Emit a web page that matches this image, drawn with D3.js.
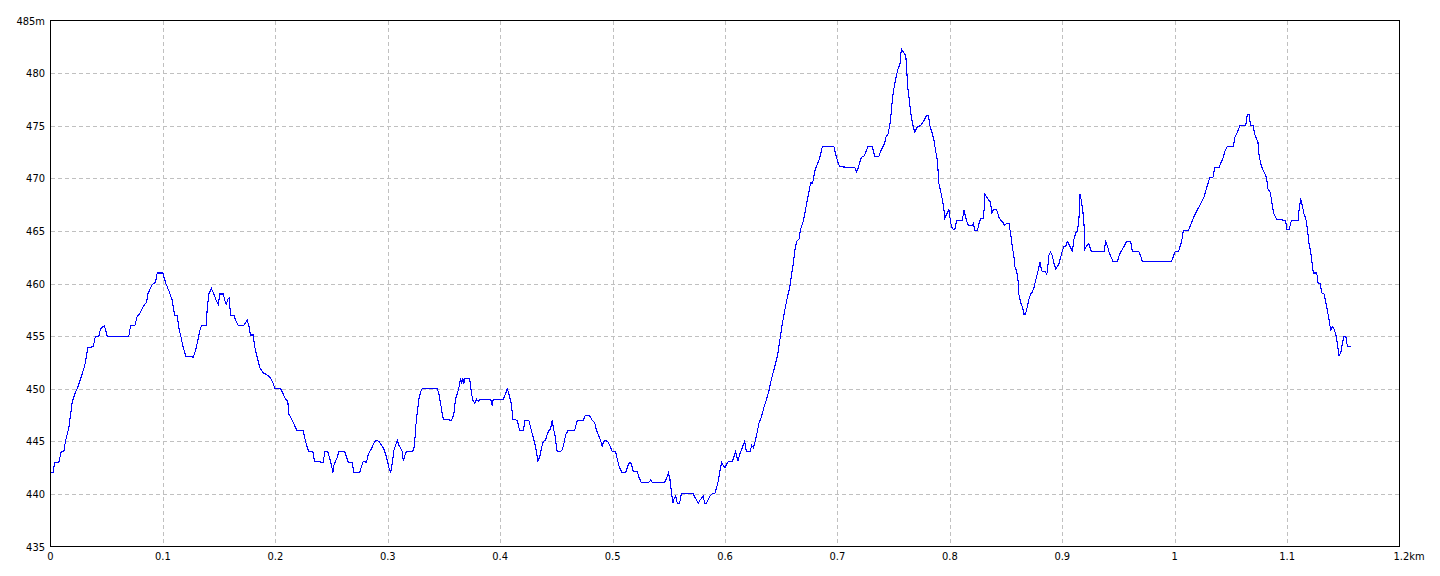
<!DOCTYPE html>
<html><head><meta charset="utf-8">
<script src="https://cdn.jsdelivr.net/npm/d3@7"></script>
<style>
html,body{margin:0;padding:0;background:#fff;}
svg text{font-family:"Liberation Sans Narrow","DejaVu Sans Condensed","Liberation Sans",Arial,sans-serif;font-size:11px;fill:#000;}
</style></head>
<body><svg id="c" width="1440" height="576"></svg>
<script>
// distance along track (metres)
const distanceM = [
0, 2.4, 3.6, 7.4, 9.5, 11.8, 13.3, 16.3, 19.3, 22.2,
23.8, 26.7, 30.5, 33.2, 38.0, 40.0, 43.0, 44.5, 48.0, 50.4,
69.7, 71.2, 75.0, 77.1, 79.2, 81.6, 83.6, 85.4, 86.6, 89.0,
90.5, 93.4, 94.9, 99.9, 102.3, 105.3, 108.3, 110.3, 112.7, 114.1,
115.7, 118.1, 120.4, 127.0, 129.0, 131.1, 132.8, 134.3, 138.5, 139.4,
140.8, 143.2, 145.3, 147.4, 149.2, 150.6, 153.6, 155.1, 156.3, 157.7,
159.0, 160.1, 163.1, 164.6, 167.0, 172.0, 173.5, 175.0, 176.4, 177.9,
180.3, 181.8, 183.9, 186.2, 189.2, 192.8, 195.7, 197.8, 199.6, 204.6,
207.0, 209.1, 211.1, 212.0, 215.0, 218.0, 219.5, 224.8, 226.0, 227.8,
229.8, 233.4, 234.9, 242.6, 244.0, 246.7, 248.5, 250.0, 251.2, 252.0,
253.6, 255.1, 256.5, 261.8, 264.0, 264.9, 268.4, 269.9, 274.9, 276.4,
278.2, 281.1, 282.3, 283.8, 285.6, 287.6, 289.2, 292.1, 294.5, 296.5,
298.9, 301.0, 302.5, 304.0, 305.4, 306.9, 308.5, 309.9, 311.4, 312.9,
313.8, 315.0, 316.5, 321.8, 323.3, 324.1, 324.8, 326.3, 327.7, 329.2,
330.7, 344.1, 345.5, 347.0, 348.5, 349.4, 356.8, 358.8, 360.3, 361.8,
363.3, 364.8, 365.7, 366.8, 367.7, 368.6, 372.8, 374.3, 375.7, 377.5,
379.0, 380.5, 381.9, 391.5, 393.0, 393.8, 402.8, 404.8, 406.3, 407.8,
409.9, 411.3, 415.2, 416.7, 417.5, 420.6, 422.0, 425.5, 427.1, 428.6,
430.6, 432.1, 433.6, 435.3, 436.8, 438.4, 440.4, 441.9, 443.3, 444.8,
446.4, 447.2, 448.7, 450.2, 450.8, 453.1, 455.3, 456.7, 458.2, 460.2,
466.2, 468.6, 473.9, 475.4, 478.9, 480.4, 481.9, 484.0, 485.8, 487.8,
489.3, 490.8, 491.7, 493.2, 495.3, 496.7, 498.2, 499.8, 502.7, 504.2,
505.6, 507.1, 508.6, 511.6, 513.1, 514.5, 516.0, 517.6, 518.4, 522.0,
523.4, 525.5, 532.3, 533.8, 535.3, 546.3, 548.1, 549.6, 551.0, 552.5,
553.7, 554.6, 556.1, 557.6, 559.6, 561.1, 571.8, 573.0, 574.8, 576.3,
577.7, 579.2, 580.7, 581.9, 583.4, 585.2, 586.6, 588.7, 590.8, 592.6,
594.1, 595.5, 597.0, 598.5, 599.9, 601.4, 602.9, 606.5, 607.9, 609.4,
610.3, 611.5, 612.4, 613.9, 615.4, 617.5, 619.0, 622.2, 623.7, 625.2,
626.6, 628.7, 630.2, 632.3, 634.6, 637.0, 639.1, 640.6, 644.2, 646.8,
651.0, 653.1, 655.5, 657.5, 659.3, 660.8, 662.0, 663.7, 665.8, 667.3,
669.3, 670.8, 672.6, 674.7, 676.2, 677.9, 679.7, 681.5, 683.5, 685.1,
686.6, 696.9, 698.4, 700.5, 702.2, 715.6, 716.8, 718.2, 719.8, 721.3,
723.6, 725.7, 727.1, 731.1, 733.1, 736.9, 738.5, 740.5, 742.0, 743.2,
745.0, 746.5, 747.4, 748.3, 749.8, 750.9, 752.7, 754.2, 755.6, 756.9,
758.6, 760.7, 761.6, 762.2, 763.7, 765.1, 766.6, 768.7, 771.1, 774.0,
777.0, 779.4, 780.9, 782.3, 784.5, 785.9, 787.4, 788.9, 790.3, 791.8,
793.3, 794.7, 795.6, 797.2, 799.2, 800.7, 802.2, 804.3, 806.1, 811.1,
812.6, 814.1, 815.6, 817.0, 820.1, 820.9, 822.4, 824.5, 826.0, 827.4,
829.5, 830.4, 831.3, 832.8, 834.8, 836.3, 837.2, 838.7, 841.7, 843.7,
845.2, 847.3, 848.8, 850.3, 852.6, 854.1, 855.6, 857.1, 857.9, 859.4,
861.0, 861.5, 863.0, 864.5, 865.9, 867.4, 868.9, 870.4, 871.9, 873.4,
874.8, 876.3, 877.8, 879.3, 880.2, 881.4, 882.3, 885.2, 886.1, 886.8,
888.2, 889.7, 891.2, 892.7, 894.2, 895.6, 897.1, 898.6, 900.1, 901.5,
903.0, 904.5, 906.0, 907.5, 909.0, 910.4, 911.9, 913.4, 914.8, 915.7,
917.0, 918.4, 919.3, 920.2, 921.7, 923.7, 925.2, 926.8, 937.1, 938.6,
940.1, 941.6, 943.1, 945.1, 949.0, 950.5, 952.0, 954.9, 957.3, 960.9,
962.4, 968.3, 969.8, 971.2, 997.3, 998.9, 1000.3, 1003.3, 1004.7, 1006.2,
1007.7, 1011.9, 1013.6, 1015.8, 1017.8, 1020.2, 1023.2, 1026.1, 1027.6, 1029.6,
1031.4, 1034.1, 1035.6, 1039.4, 1040.9, 1043.3, 1044.7, 1046.8, 1052.2, 1053.6,
1055.8, 1058.1, 1063.2, 1064.7, 1066.1, 1067.6, 1069.7, 1071.2, 1073.0, 1074.1,
1075.0, 1076.5, 1078.0, 1079.5, 1081.6, 1083.0, 1084.8, 1086.1, 1087.0, 1088.4,
1090.8, 1098.8, 1099.7, 1101.7, 1103.9, 1109.8, 1110.6, 1112.1, 1113.7, 1115.1,
1116.6, 1118.1, 1119.5, 1121.0, 1122.6, 1123.4, 1126.4, 1127.6, 1129.4, 1130.9,
1132.9, 1134.4, 1135.9, 1137.3, 1138.8, 1139.7, 1140.8, 1142.3, 1143.9, 1145.3,
1146.2, 1147.7, 1149.2, 1150.7, 1152.2, 1153.7, 1156.6
];
// elevation (metres)
const elevationM = [
442, 442, 443, 443, 444, 444, 445, 446.3, 448.7, 449.7,
450, 450.9, 452.2, 453.9, 454, 455, 455, 455.7, 456, 455,
455, 456, 456, 456.9, 457.1, 457.6, 458, 458.2, 459, 459.6,
459.9, 460.1, 461, 461, 460.1, 459.3, 458.4, 457, 457, 455.8,
455.1, 453.9, 453.1, 453, 453.6, 454.6, 455.5, 456, 456, 457.6,
459, 459.5, 459, 458.4, 458, 459, 459, 458.4, 458, 458.5,
458.6, 457, 457, 456.5, 456, 456, 456.3, 456.5, 456, 455.1,
455.1, 453.9, 453, 452, 451.5, 451.3, 451, 450.6, 450, 450,
449.5, 449, 448.8, 447.6, 447, 446.3, 446, 446, 445.4, 444.6,
444, 444, 443.1, 443, 444, 444, 443.3, 442.7, 442, 442.7,
443.1, 443.5, 444, 444, 443.3, 443, 443, 442, 442, 442.5,
443.1, 443, 443.6, 444, 444.3, 444.8, 445.1, 445, 444.6, 444.3,
443.5, 442.5, 442, 442.9, 444.1, 444.6, 445.1, 444.6, 444.4, 444,
443.1, 443.6, 444, 444, 444.3, 445.1, 446.3, 447.8, 449, 449.7,
450, 450, 449.5, 448.6, 447.6, 447.1, 447, 447.6, 449, 449.5,
450.1, 451, 450.5, 451, 450.5, 451, 451, 449.7, 448.9, 448.6,
449, 448.8, 449, 449, 448.4, 449, 449, 449.5, 450, 449.5,
448.6, 447.1, 447, 446.3, 446, 446, 447, 447, 446.3, 445.7,
444.9, 444.1, 443.1, 443.6, 444.4, 445, 445.1, 445.7, 446, 446.2,
447, 446.3, 445.6, 444.4, 444, 444, 444.2, 444.8, 445.6, 446,
446, 447, 447, 447.4, 447.5, 447.3, 447, 446.8, 446, 445.5,
445.1, 444.5, 444.9, 445.1, 445, 444.8, 444.4, 444, 444, 443.3,
442.7, 442.3, 442, 442, 442.5, 442.9, 443, 442.5, 442.1, 442.1,
441.6, 441.1, 441.1, 441.3, 441.1, 441.1, 441.5, 442, 441.4, 440,
439.1, 439.5, 439.8, 439.1, 439.1, 440, 440, 439.7, 439.4, 439.1,
439.4, 439.6, 439.8, 439.1, 439.1, 439.5, 439.8, 440, 440, 440.6,
441.3, 442.2, 443, 442.7, 442.5, 442.8, 443.1, 443.1, 443.5, 444,
443.6, 443.1, 443.5, 444, 444.4, 445, 444, 444, 444.6, 444.4,
444.9, 445.9, 446.7, 447.3, 448.2, 449, 449.8, 450.6, 452.1, 453.2,
456.2, 457.4, 458.7, 459.6, 460.9, 461.9, 463.1, 464, 464.2, 465.2,
465.8, 466.5, 467.6, 468.7, 469.6, 469.5, 470.6, 471.2, 471.7, 472.3,
473, 473, 472.3, 471.5, 471.1, 471, 470.6, 470.9, 471.5, 472,
472.1, 472.6, 473, 473, 472.1, 472.1, 472.6, 473, 473.3, 473.9,
474.2, 475, 475.7, 476.9, 478.3, 478.9, 479.9, 480.5, 480.8, 482.3,
482, 481.7, 480.7, 479, 477.7, 476.3, 475.3, 474.4, 474.9, 475,
475.5, 476, 476, 475, 474.2, 473.6, 472.6, 471.7, 469.5, 468.8,
468, 467.1, 466.2, 466.6, 467, 465.8, 465.2, 465.1, 466, 466,
467, 466.3, 465.7, 465.5, 465.5, 465.7, 465, 465, 465.7, 466.2,
466.2, 466.9, 468.5, 468.2, 467.9, 467.7, 466.6, 467, 467, 466.3,
466, 465.8, 465.5, 465.7, 465.7, 464.7, 463.5, 462.5, 461.6, 461.2,
460, 458.9, 458.2, 457.8, 457.1, 457.1, 457.8, 458.5, 459, 459.2,
459.6, 460.3, 460.9, 461.6, 462, 461.4, 461.1, 461.1, 460.8, 461.2,
462.7, 463, 462.6, 461.9, 461.4, 461.6, 461.9, 462.5, 463.1, 463.5,
463.5, 464, 463.7, 463.4, 463, 464.2, 464.8, 465, 466, 468.5,
467.9, 466.8, 465.7, 463.3, 463.6, 463.8, 463.2, 463, 463, 464,
463.6, 463, 462.6, 462.1, 462.1, 462.6, 463, 463.5, 464, 464,
463, 463, 462.6, 462.1, 462.1, 462.6, 463, 463, 463.5, 464,
465, 465, 465.4, 466, 466.5, 467, 467.6, 468.2, 468.8, 469.5,
470.1, 470.1, 471, 471, 471.4, 472, 472.6, 473, 473, 473.9,
474.4, 475, 475, 476.1, 476.1, 475, 475, 474.2, 473.7, 473.4,
472.3, 471.4, 470.9, 470.6, 470.1, 469, 468.7, 468, 467.3, 466.6,
466.1, 466, 465.1, 465.1, 466, 466, 466.9, 468.1, 467.3, 466.6,
466.2, 465.2, 463.8, 463, 461.6, 461, 461, 460, 460, 459.1,
459, 458.2, 457.4, 456.6, 455.5, 455.8, 455.9, 455.5, 454.9, 453.8,
453.1, 453.4, 454.3, 455, 455, 454, 454
];
const xTicks = [0, 0.1, 0.2, 0.3, 0.4, 0.5, 0.6, 0.7, 0.8, 0.9, 1, 1.1, 1.2];
const xTickLabels = ["0","0.1","0.2","0.3","0.4","0.5","0.6","0.7","0.8","0.9","1","1.1","1.2"];
const yTicks = [435, 440, 445, 450, 455, 460, 465, 470, 475, 480, 485];
const xUnit = "km", yUnit = "m";

const L = 50.5, R = 1399.5, T = 20.5, B = 546.5;
const svg = d3.select("#c");
const x = d3.scaleLinear().domain([0, 1.2]).range([L, R]);
const y = d3.scaleLinear().domain([435, 485]).range([B, T]);

// grid
const g = svg.append("g");
g.selectAll("line.v").data(xTicks.slice(1, -1)).enter().append("line")
  .attr("x1", d => Math.round(x(d)) + 0.5).attr("x2", d => Math.round(x(d)) + 0.5)
  .attr("y1", T).attr("y2", B)
  .attr("stroke", "#c0c0c0").attr("stroke-dasharray", "4,3").attr("shape-rendering", "crispEdges");
g.selectAll("line.h").data(yTicks.slice(1, -1)).enter().append("line")
  .attr("y1", d => Math.round(y(d)) + 0.5).attr("y2", d => Math.round(y(d)) + 0.5)
  .attr("x1", L).attr("x2", R)
  .attr("stroke", "#c0c0c0").attr("stroke-dasharray", "4,3").attr("shape-rendering", "crispEdges");

// line
const pts = distanceM.map((d, i) => [d / 1000, elevationM[i]]);
const line = d3.line().x(d => x(d[0])).y(d => y(d[1]));
svg.append("path").datum(pts).attr("d", line)
  .attr("fill", "none").attr("stroke", "#0000ff").attr("stroke-width", 1.1)
  .attr("shape-rendering", "crispEdges");

// frame
svg.append("rect").attr("x", L - 0.5 + 0.5).attr("y", T).attr("width", R - L).attr("height", B - T)
  .attr("fill", "none").attr("stroke", "#000").attr("shape-rendering", "crispEdges");

// axes labels
svg.selectAll("text.yl").data(yTicks).enter().append("text")
  .attr("x", 45).attr("y", d => y(d) + 4)
  .attr("text-anchor", "end")
  .text((d, i) => i === yTicks.length - 1 ? d + yUnit : d);
svg.selectAll("text.xl").data(xTicks).enter().append("text")
  .attr("x", d => x(d)).attr("y", 560)
  .attr("text-anchor", (d, i) => i === xTicks.length - 1 ? "start" : "middle")
  .attr("dx", (d, i) => i === xTicks.length - 1 ? -6 : 0)
  .text((d, i) => i === xTicks.length - 1 ? xTickLabels[i] + xUnit : xTickLabels[i]);
</script></body></html>
